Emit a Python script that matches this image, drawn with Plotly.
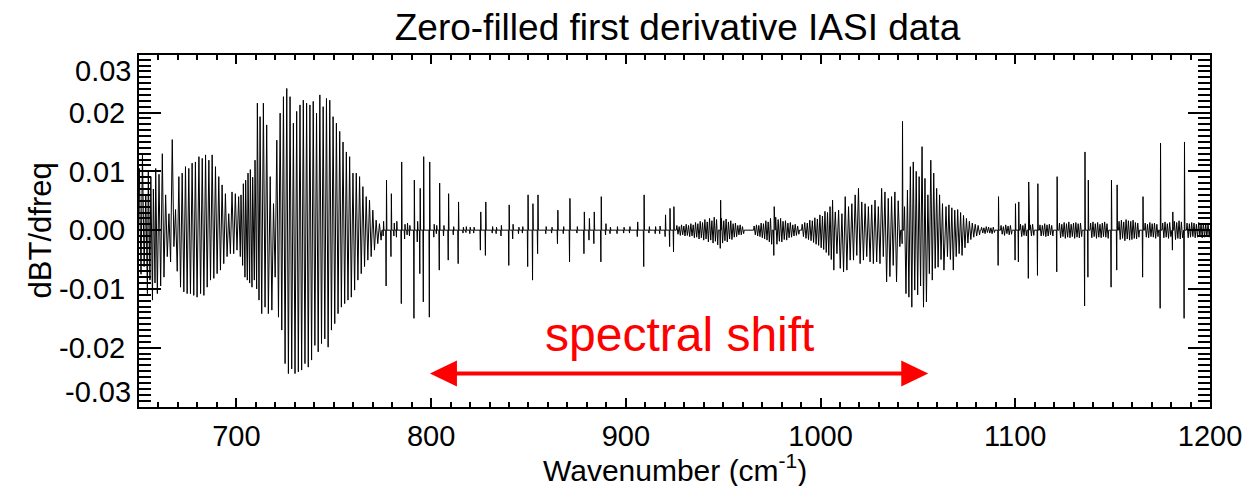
import plotly.graph_objects as go

# ---------------- data ----------------
# CO2 band: one entry per absorption line (centre wavenumber, upper and lower lobe)
co2_wn = [650.6, 652.2, 653.9, 655.2, 656.5, 657.8, 659.0, 660.7, 662.4, 664.1, 665.8, 667.5,
          669.2, 670.9, 672.6, 674.3, 676.0, 677.7, 679.4, 681.2, 682.9, 684.6, 686.3, 688.0,
          689.7, 691.4, 693.1, 694.8, 696.5, 698.2, 699.9, 701.6, 702.8, 704.0, 705.2, 706.4,
          707.6, 708.8, 710.0, 711.2, 712.6, 714.3, 716.0, 717.8, 719.5, 721.2, 722.9, 724.6,
          726.3, 728.0, 729.7, 731.4, 733.1, 734.8, 736.5, 738.2, 739.9, 741.6, 743.3, 745.0,
          746.7, 748.4, 750.1, 751.8, 753.5, 755.2, 756.9, 758.6, 760.3, 762.0, 763.7, 765.4,
          767.1, 768.8, 770.5, 772.2, 773.9]
co2_hi = [0.0105, 0.0128, 0.0060, 0.0100, 0.0091, 0.0070, 0.0105, 0.0095, 0.0130, 0.0060, 0.0028, 0.0154,
          0.0035, 0.0091, 0.0097, 0.0108, 0.0105, 0.0114, 0.0116, 0.0125, 0.0122, 0.0128, 0.0119, 0.0128,
          0.0108, 0.0091, 0.0077, 0.0062, 0.0028, 0.0065, 0.0062, 0.0057, 0.0060, 0.0079, 0.0085, 0.0097,
          0.0103, 0.0090, 0.0119, 0.0216, 0.0193, 0.0216, 0.0179, 0.0091, 0.0045, 0.0153, 0.0199, 0.0227,
          0.0241, 0.0227, 0.0182, 0.0202, 0.0213, 0.0221, 0.0216, 0.0213, 0.0219, 0.0199, 0.0230, 0.0210,
          0.0224, 0.0221, 0.0193, 0.0182, 0.0168, 0.0150, 0.0133, 0.0125, 0.0097, 0.0097, 0.0091, 0.0074,
          0.0057, 0.0051, 0.0034, 0.0017, 0.0011]
co2_lo = [-0.0075, -0.0062, -0.0108, -0.0085, -0.0119, -0.0090, -0.0108, -0.0095, -0.0080, -0.0045, -0.0054, -0.0028,
          -0.0070, -0.0097, -0.0105, -0.0108, -0.0108, -0.0111, -0.0114, -0.0108, -0.0111, -0.0097, -0.0085, -0.0082,
          -0.0074, -0.0068, -0.0057, -0.0045, -0.0040, -0.0040, -0.0034, -0.0045, -0.0060, -0.0080, -0.0085, -0.0090,
          -0.0097, -0.0085, -0.0100, -0.0119, -0.0142, -0.0131, -0.0142, -0.0136, -0.0080, -0.0148, -0.0170, -0.0227,
          -0.0244, -0.0236, -0.0244, -0.0241, -0.0238, -0.0227, -0.0233, -0.0221, -0.0196, -0.0207, -0.0193, -0.0185,
          -0.0199, -0.0170, -0.0159, -0.0142, -0.0131, -0.0125, -0.0119, -0.0114, -0.0102, -0.0085, -0.0074, -0.0062,
          -0.0051, -0.0045, -0.0034, -0.0023, -0.0017]

# isolated lines (window region and beyond)
line_wn = [775.5, 777.0, 779.5, 781.0, 782.3, 784.8, 786.5, 787.8, 789.0, 791.3, 793.0, 794.3,
           796.1, 799.2, 801.5, 802.8, 804.3, 806.5, 808.9, 811.5, 814.0, 816.5, 818.0, 820.0,
           822.0, 825.4, 828.0, 831.5, 833.5, 836.0, 840.0, 842.0, 845.0, 847.0, 849.7, 852.2,
           854.8, 859.0, 862.0, 865.0, 868.0, 871.2, 875.0, 878.6, 881.2, 883.7, 887.3, 889.7,
           892.0, 895.6, 899.0, 902.0, 906.0, 909.3, 912.0, 915.2, 917.5, 920.3, 922.6, 924.6,
           948.6, 976.1, 1042.0, 1091.3, 1100.0, 1101.7, 1106.8, 1111.5, 1121.4, 1135.7, 1137.4,
           1149.3, 1152.2, 1165.5, 1174.5, 1180.8, 1186.8]
line_hi = [0.0015, 0.0085, 0.0062, 0.0012, 0.0015, 0.0116, 0.0010, 0.0012, 0.0008, 0.0085, 0.0015, 0.0071,
           0.0125, 0.0116, 0.0010, 0.0008, 0.0080, 0.0008, 0.0062, 0.0006, 0.0048, 0.0005, 0.0006, 0.0005,
           0.0005, 0.0031, 0.0048, 0.0006, 0.0005, 0.0008, 0.0043, 0.0010, 0.0005, 0.0006, 0.0060, 0.0045,
           0.0060, 0.0006, 0.0005, 0.0034, 0.0006, 0.0054, 0.0006, 0.0031, 0.0020, 0.0031, 0.0057, 0.0011,
           0.0005, 0.0006, 0.0005, 0.0006, 0.0014, 0.0060, 0.0006, 0.0006, 0.0007, 0.0026, 0.0037, 0.0040,
           0.0051, 0.0040, 0.0185, 0.0057, 0.0045, 0.0048, 0.0082, 0.0079, 0.0091, 0.0133, 0.0085,
           0.0085, 0.0077, 0.0057, 0.0148, 0.0031, 0.0150]
line_lo = [-0.0010, -0.0095, -0.0045, -0.0010, -0.0012, -0.0125, -0.0015, -0.0008, -0.0010, -0.0150, -0.0020, -0.0074,
           -0.0122, -0.0148, -0.0012, -0.0006, -0.0068, -0.0010, -0.0051, -0.0008, -0.0057, -0.0005, -0.0004, -0.0006,
           -0.0005, -0.0034, -0.0043, -0.0005, -0.0006, -0.0010, -0.0060, -0.0015, -0.0006, -0.0005, -0.0062, -0.0085,
           -0.0040, -0.0006, -0.0005, -0.0023, -0.0006, -0.0054, -0.0005, -0.0040, -0.0017, -0.0023, -0.0054, -0.0008,
           -0.0006, -0.0006, -0.0005, -0.0005, -0.0011, -0.0062, -0.0005, -0.0006, -0.0006, -0.0011, -0.0028, -0.0037,
           -0.0031, -0.0043, -0.0023, -0.0060, -0.0051, -0.0054, -0.0082, -0.0077, -0.0071, -0.0129, -0.0080,
           -0.0097, -0.0068, -0.0080, -0.0133, -0.0034, -0.0150]

# ripple bands (evenly spaced oscillations): start, spacing, upper/lower lobes
ripA_start, ripA_step = 926.5, 1.2
ripA_hi = [0.0008, 0.0006, 0.0009, 0.0007, 0.0010, 0.0008, 0.0011, 0.0009, 0.0013, 0.0011, 0.0015, 0.0013,
           0.0018, 0.0014, 0.0020, 0.0016, 0.0022, 0.0018]
ripA_lo = [-0.0007, -0.0009, -0.0008, -0.0010, -0.0009, -0.0011, -0.0010, -0.0013, -0.0012, -0.0015, -0.0013, -0.0017,
           -0.0015, -0.0020, -0.0017, -0.0022, -0.0019, -0.0025]
ripB_start, ripB_step = 949.4, 1.2
ripB_hi = [0.0020, 0.0016, 0.0019, 0.0014, 0.0016, 0.0011, 0.0012, 0.0008, 0.0009, 0.0006]
ripB_lo = [-0.0022, -0.0018, -0.0020, -0.0015, -0.0016, -0.0012, -0.0011, -0.0008, -0.0008, -0.0006]
ripC_start, ripC_step = 966.2, 1.2
ripC_hi = [0.0007, 0.0009, 0.0008, 0.0012, 0.0011, 0.0016, 0.0014, 0.0020]
ripC_lo = [-0.0008, -0.0010, -0.0011, -0.0013, -0.0015, -0.0017, -0.0020, -0.0024]
ripD_start, ripD_step = 977.3, 1.25
ripD_hi = [0.0022, 0.0018, 0.0020, 0.0015, 0.0016, 0.0012, 0.0013, 0.0009, 0.0010, 0.0007]
ripD_lo = [-0.0024, -0.0019, -0.0020, -0.0016, -0.0017, -0.0013, -0.0012, -0.0010, -0.0009, -0.0007]
ripE_start, ripE_step = 990.9, 1.3
ripE_hi = [0.0010, 0.0013, 0.0012, 0.0017, 0.0016, 0.0021, 0.0019, 0.0026, 0.0024, 0.0032, 0.0030, 0.0040, 0.0051]
ripE_lo = [-0.0011, -0.0014, -0.0016, -0.0018, -0.0021, -0.0024, -0.0026, -0.0030, -0.0033, -0.0038, -0.0043, -0.0050, -0.0068]
o3a_start, o3a_step = 1008.0, 1.7
o3a_hi = [0.0031, 0.0034, 0.0028, 0.0057, 0.0040, 0.0045, 0.0060, 0.0071, 0.0048, 0.0045,
          0.0040, 0.0043, 0.0051, 0.0040, 0.0071, 0.0065, 0.0054, 0.0057, 0.0065, 0.0050]
o3a_lo = [-0.0040, -0.0065, -0.0071, -0.0068, -0.0051, -0.0051, -0.0043, -0.0057, -0.0051, -0.0045,
          -0.0054, -0.0057, -0.0054, -0.0057, -0.0045, -0.0088, -0.0079, -0.0060, -0.0088, -0.0028]
o3b_start, o3b_step = 1043.5, 1.5
o3b_hi = [0.0040, 0.0068, 0.0108, 0.0116, 0.0100, 0.0091, 0.0142, 0.0088, 0.0060, 0.0119, 0.0097, 0.0071, 0.0060, 0.0045]
o3b_lo = [-0.0108, -0.0114, -0.0131, -0.0102, -0.0110, -0.0095, -0.0131, -0.0122, -0.0074, -0.0085, -0.0065, -0.0063, -0.0050, -0.0068]
o3c_start, o3c_step = 1064.8, 1.5
o3c_hi = [0.0040, 0.0043, 0.0038, 0.0034, 0.0035, 0.0030, 0.0025, 0.0020, 0.0015, 0.0012, 0.0010, 0.0008]
o3c_lo = [-0.0045, -0.0050, -0.0068, -0.0045, -0.0040, -0.0043, -0.0030, -0.0022, -0.0016, -0.0012, -0.0010, -0.0008]

# small noise stretches between the lines above 1080 cm-1
noise_start = [1083.0, 1093.0, 1103.0, 1108.0, 1113.0, 1123.0, 1139.0, 1153.6, 1167.0, 1176.0, 1182.0, 1188.5]
noise_step = [1.2, 1.2, 1.2, 1.2, 1.2, 1.2, 1.2, 1.2, 1.2, 1.2, 1.2, 1.2]
noise_hi = [[0.0005, 0.0004, 0.0006, 0.0005, 0.0004, 0.0005],
            [0.0008, 0.0006, 0.0009, 0.0007, 0.0008],
            [0.0010, 0.0008, 0.0011],
            [0.0009, 0.0010],
            [0.0009, 0.0008, 0.0011, 0.0009, 0.0010, 0.0008],
            [0.0012, 0.0010, 0.0013, 0.0011, 0.0014, 0.0010, 0.0012, 0.0013, 0.0011, 0.0012],
            [0.0012, 0.0014, 0.0011, 0.0013, 0.0010, 0.0012, 0.0014, 0.0011],
            [0.0015, 0.0017, 0.0014, 0.0018, 0.0016, 0.0015, 0.0017, 0.0013, 0.0012],
            [0.0012, 0.0010, 0.0013, 0.0011, 0.0012, 0.0010],
            [0.0012, 0.0014, 0.0011, 0.0013],
            [0.0015, 0.0013, 0.0016, 0.0014],
            [0.0012, 0.0011, 0.0013, 0.0012, 0.0010, 0.0013, 0.0011, 0.0012, 0.0010, 0.0011]]
noise_lo = [[-0.0005, -0.0006, -0.0004, -0.0005, -0.0006, -0.0004],
            [-0.0007, -0.0009, -0.0006, -0.0008, -0.0007],
            [-0.0011, -0.0009, -0.0010],
            [-0.0010, -0.0009],
            [-0.0010, -0.0009, -0.0011, -0.0010, -0.0008, -0.0010],
            [-0.0013, -0.0011, -0.0014, -0.0012, -0.0013, -0.0011, -0.0014, -0.0012, -0.0013, -0.0011],
            [-0.0013, -0.0011, -0.0014, -0.0012, -0.0013, -0.0011, -0.0012, -0.0014],
            [-0.0016, -0.0014, -0.0018, -0.0015, -0.0017, -0.0016, -0.0014, -0.0015, -0.0012],
            [-0.0012, -0.0013, -0.0011, -0.0012, -0.0014, -0.0011],
            [-0.0013, -0.0012, -0.0014, -0.0011],
            [-0.0016, -0.0014, -0.0015, -0.0013],
            [-0.0013, -0.0012, -0.0011, -0.0013, -0.0012, -0.0011, -0.0013, -0.0012, -0.0011, -0.0012]]

x_ticks = [700, 800, 900, 1000, 1100, 1200]
y_ticks = [-0.02, -0.01, 0.0, 0.01, 0.02]
y_ticktext = ["-0.02", "-0.01", "0.00", "0.01", "0.02"]
y_edge_labels = ["0.03", "-0.03"]
title_text = "Zero-filled first derivative IASI data"
shift_label = "spectral shift"
shift_from, shift_to, shift_level = 799.4, 1055.3, -0.0244

# ---------------- build the polyline ----------------
pieces = []


def zig(centres, hi, lo, step):
    h = step / 4.0
    xs = [centres[0] - 2 * h]
    ys = [0.0]
    for c, a, b in zip(centres, hi, lo):
        xs += [c - h, c + h]
        ys += [a, b]
    xs.append(centres[-1] + 2 * h)
    ys.append(0.0)
    return xs, ys


pieces.append(zig(co2_wn, co2_hi, co2_lo, 1.7))
for c, a, b in zip(line_wn, line_hi, line_lo):
    pieces.append(([c - 0.3, c - 0.1, c + 0.1, c + 0.3], [0.0, b, a, 0.0]))
for st, sp, hi, lo in [(ripA_start, ripA_step, ripA_hi, ripA_lo),
                       (ripB_start, ripB_step, ripB_hi, ripB_lo),
                       (ripC_start, ripC_step, ripC_hi, ripC_lo),
                       (ripD_start, ripD_step, ripD_hi, ripD_lo),
                       (ripE_start, ripE_step, ripE_hi, ripE_lo),
                       (o3a_start, o3a_step, o3a_hi, o3a_lo),
                       (o3b_start, o3b_step, o3b_hi, o3b_lo),
                       (o3c_start, o3c_step, o3c_hi, o3c_lo)]:
    cs = [st + i * sp for i in range(len(hi))]
    pieces.append(zig(cs, hi, lo, sp))
for st, sp, hi, lo in zip(noise_start, noise_step, noise_hi, noise_lo):
    cs = [st + i * sp for i in range(len(hi))]
    pieces.append(zig(cs, hi, lo, sp))

pieces.sort(key=lambda p: p[0][0])
X, Y = [], []
for xs, ys in pieces:
    X += xs
    Y += ys
X.append(1201.0)
Y.append(0.0)

FONT = "Liberation Sans, Arial, Helvetica, sans-serif"
RED = "#ff0000"

fig = go.Figure()
fig.add_trace(go.Scatter(x=X, y=Y, mode="lines", line=dict(color="black", width=1),
                         hoverinfo="skip", showlegend=False))

# red double arrow
fig.add_shape(type="line", x0=shift_from + 12, x1=shift_to - 12, y0=shift_level, y1=shift_level,
              line=dict(color=RED, width=4))
fig.add_shape(type="path", xref="x", yref="y", xsizemode="pixel", ysizemode="pixel",
              xanchor=shift_from, yanchor=shift_level, path="M 0 0 L 27 13 L 27 -13 Z",
              fillcolor=RED, line=dict(color=RED, width=0))
fig.add_shape(type="path", xref="x", yref="y", xsizemode="pixel", ysizemode="pixel",
              xanchor=shift_to, yanchor=shift_level, path="M 0 0 L -27 13 L -27 -13 Z",
              fillcolor=RED, line=dict(color=RED, width=0))

annotations = [
    dict(text=shift_label, x=(shift_from + shift_to) / 2, y=-0.0177, xref="x", yref="y",
         showarrow=False, font=dict(family=FONT, size=48, color=RED), xanchor="center", yanchor="middle"),
    dict(text="dBT/dfreq", x=-0.092, y=0.503, xref="paper", yref="paper", textangle=-90,
         showarrow=False, font=dict(family=FONT, size=31, color="black"), xanchor="center", yanchor="middle"),
    dict(text="Wavenumber (cm<sup>-1</sup>)", x=0.5, y=-0.174, xref="paper", yref="paper",
         showarrow=False, font=dict(family=FONT, size=30, color="black"), xanchor="center", yanchor="middle"),
    dict(text=y_edge_labels[0], x=0, y=1, xref="paper", yref="paper", xanchor="right", yanchor="top",
         xshift=-6, yshift=2, showarrow=False, font=dict(family=FONT, size=29, color="black")),
    dict(text=y_edge_labels[1], x=0, y=0, xref="paper", yref="paper", xanchor="right", yanchor="bottom",
         xshift=-6, yshift=-3, showarrow=False, font=dict(family=FONT, size=29, color="black")),
]

# the page adds an 8 px body margin, so the figure is 8 px smaller and shifted
fig.update_layout(
    width=1246, height=478,
    margin=dict(l=131, r=38, t=47, b=79),
    paper_bgcolor="white", plot_bgcolor="white",
    font=dict(family=FONT, color="black"),
    title=dict(text=title_text, x=0.5373, xanchor="center", y=0.96, yanchor="middle", yref="container",
               font=dict(family=FONT, size=37, color="black")),
    annotations=annotations,
    xaxis=dict(range=[650, 1200], tickmode="array", tickvals=x_ticks, ticks="inside", ticklen=9,
               tickwidth=1.5, tickcolor="black", showline=True, linecolor="black", linewidth=2,
               mirror="ticks", showgrid=False, zeroline=False,
               tickfont=dict(family=FONT, size=29, color="black"), ticklabelstandoff=2,
               minor=dict(tick0=0, dtick=10, ticks="inside", ticklen=5, tickwidth=1.5,
                          tickcolor="black", showgrid=False)),
    yaxis=dict(range=[-0.03008, 0.02979], tickmode="array", tickvals=y_ticks, ticktext=y_ticktext,
               ticks="inside", ticklen=22, tickwidth=1.5, tickcolor="black", showline=True,
               linecolor="black", linewidth=2, mirror="ticks", showgrid=False, zeroline=False,
               tickfont=dict(family=FONT, size=29, color="black"), ticklabelstandoff=6,
               minor=dict(tick0=0, dtick=0.001, ticks="inside", ticklen=12, tickwidth=1.5,
                          tickcolor="black", showgrid=False)),
)

fig.write_html("out.html")
